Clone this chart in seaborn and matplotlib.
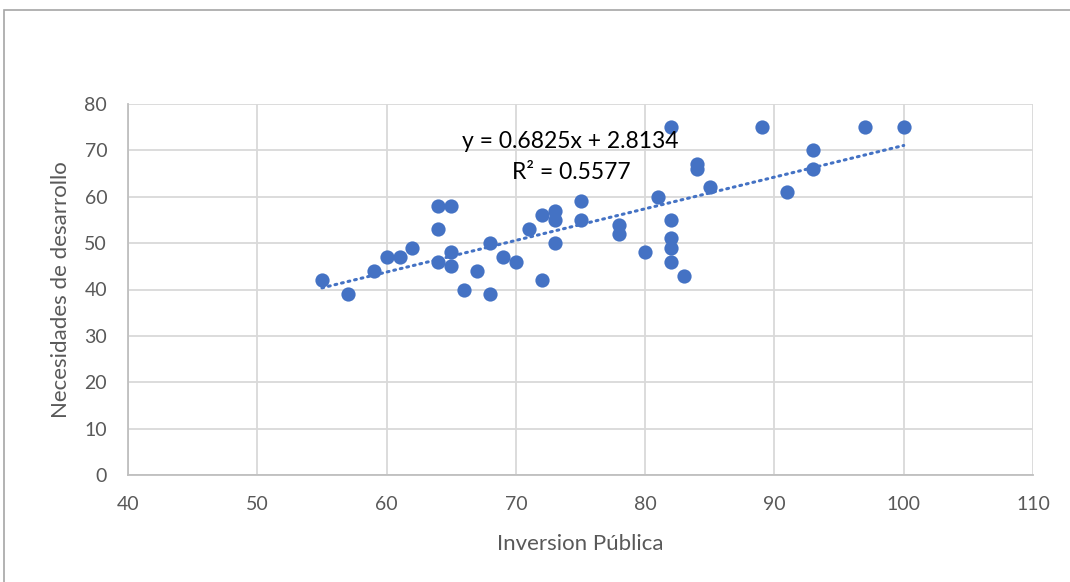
import numpy as np
import pandas as pd
import matplotlib
matplotlib.use("Agg")
import matplotlib.pyplot as plt
import seaborn as sns
from matplotlib.patches import Rectangle

inversion = [55, 57, 59, 60, 61, 62, 64, 65, 64, 64, 65, 65, 66, 67, 68, 68, 69, 70,
             71, 72, 72, 73, 73, 73, 75, 75, 78, 78, 80, 81, 82, 82, 82, 82, 82, 83,
             84, 84, 85, 89, 91, 93, 93, 97, 100]
necesidades = [42, 39, 44, 47, 47, 49, 58, 58, 53, 46, 48, 45, 40, 44, 50, 39, 47, 46,
               53, 56, 42, 57, 55, 50, 59, 55, 54, 52, 48, 60, 75, 55, 51, 49, 46, 43,
               67, 66, 62, 75, 61, 70, 66, 75, 75]
x_ticks = [40, 50, 60, 70, 80, 90, 100, 110]
y_ticks = [0, 10, 20, 30, 40, 50, 60, 70, 80]
equation = "y = 0.6825x + 2.8134"
r2_text = "R² = 0.5577"

df = pd.DataFrame({"Inversion Pública": inversion, "Necesidades de desarrollo": necesidades})

sns.set_theme(style="white")
plt.rcParams["font.family"] = ["Lato", "DejaVu Sans"]

fig = plt.figure(figsize=(10.7, 5.82), dpi=100)
ax = fig.add_axes([128 / 1070, 1 - 475 / 582, (1033 - 128) / 1070, (475 - 104) / 582])

blue = "#4472C4"
sns.scatterplot(data=df, x="Inversion Pública", y="Necesidades de desarrollo", ax=ax,
                color=blue, s=105, edgecolor=blue, linewidth=0, zorder=3)

coef = np.polyfit(df["Inversion Pública"], df["Necesidades de desarrollo"], 1)
xs = np.array([min(inversion), max(inversion)])
sns.lineplot(x=xs, y=np.polyval(coef, xs), ax=ax, color=blue, linewidth=2.2,
             linestyle=(0, (0.6, 1.6)), dash_capstyle="round", zorder=4)

ax.set_xlim(40, 110)
ax.set_ylim(0, 80)
ax.set_xticks(x_ticks)
ax.set_yticks(y_ticks)
ax.grid(True, color="#D9D9D9", linewidth=1.3)
ax.set_axisbelow(True)
for side in ["top", "right"]:
    ax.spines[side].set_visible(False)
for side in ["left", "bottom"]:
    ax.spines[side].set_color("#BFBFBF")
    ax.spines[side].set_linewidth(1.3)
ax.tick_params(axis="both", length=0, labelsize=14, labelcolor="#595959", pad=15)
ax.set_xlabel("Inversion Pública", fontsize=16, color="#595959", labelpad=15)
ax.set_ylabel("Necesidades de desarrollo", fontsize=16, color="#595959", labelpad=10)

ax.text(74.2, 72.0, equation, ha="center", va="center", fontsize=16.5, color="black", zorder=5)
ax.text(74.3, 65.3, r2_text, ha="center", va="center", fontsize=16.5, color="black", zorder=5)

fig.patches.append(Rectangle((4 / 1070, -0.2), 1.2, 1.2 - 10 / 582, transform=fig.transFigure,
                             fill=False, edgecolor="#A6A6A6", linewidth=1.2))

fig.savefig("out.png", dpi=100)
